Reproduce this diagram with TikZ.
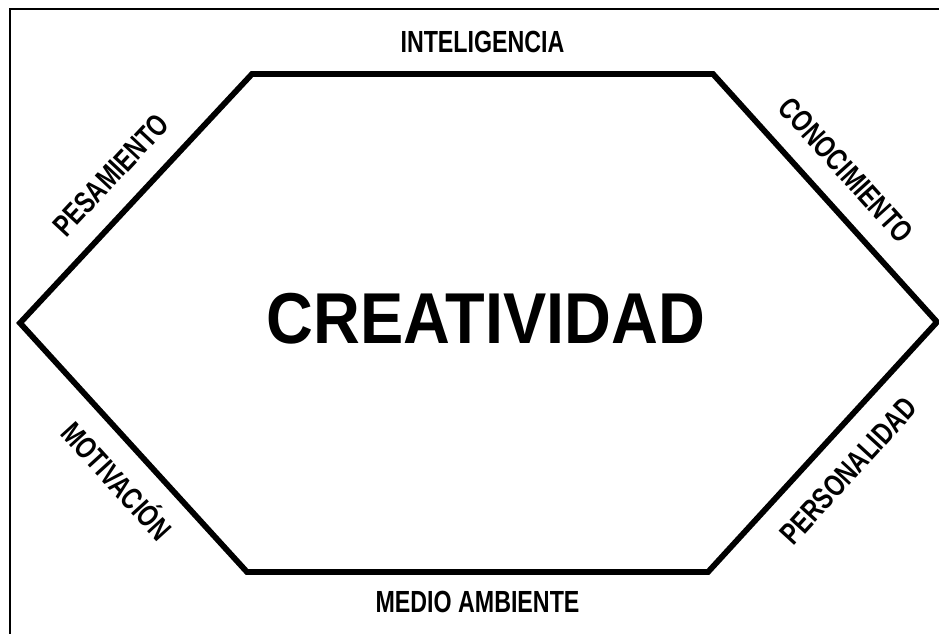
\documentclass[tikz,border=0pt]{standalone}
\usepackage{fontspec}
\usepackage{graphicx}
\usepackage{tikz}
\setmainfont{Liberation Sans}
\newcommand{\narrow}[2][0.76]{\scalebox{#1}[1]{#2}}

\begin{document}
\begin{tikzpicture}[%
  x=0.02cm, y=-0.02cm,
  frame/.style={draw, line width=1.1pt},
  hexline/.style={draw, line width=3.3pt, line join=miter},
  side/.style={sloped, inner sep=0pt, text height=12.5pt, text depth=0pt,
    font=\bfseries\fontsize{17.4}{18}\selectfont}
  ]
  \useasboundingbox (0,0) rectangle (939,633);
  \draw[frame] (10,650) |- (950,9);
  \coordinate (l) at (20,323);
  \coordinate (tl) at (252,74);
  \coordinate (tr) at (713,74);
  \coordinate (r) at (937,322);
  \coordinate (br) at (708,572);
  \coordinate (bl) at (247,572);
  \path[hexline] (l)
    -- node[side, above=0.42cm] {\narrow{PESAMIENTO}} (tl)
    -- node[side, above=0.38cm] {\narrow{INTELIGENCIA}} (tr)
    -- node[side, above=0.42cm, pos=0.48] {\narrow{CONOCIMIENTO}} (r)
    -- node[side, below=0.42cm] {\narrow{PERSONALIDAD}} (br)
    -- node[side, below=0.32cm] {\narrow{MEDIO AMBIENTE}} (bl)
    -- node[side, below=0.42cm, pos=0.46] {\narrow{MOTIVACIÓN}} (l)
    -- cycle;
  \node[font=\bfseries\fontsize{41}{44}\selectfont] (title) at (486,319) {\narrow[0.9]{CREATIVIDAD}};
\end{tikzpicture}
\end{document}
